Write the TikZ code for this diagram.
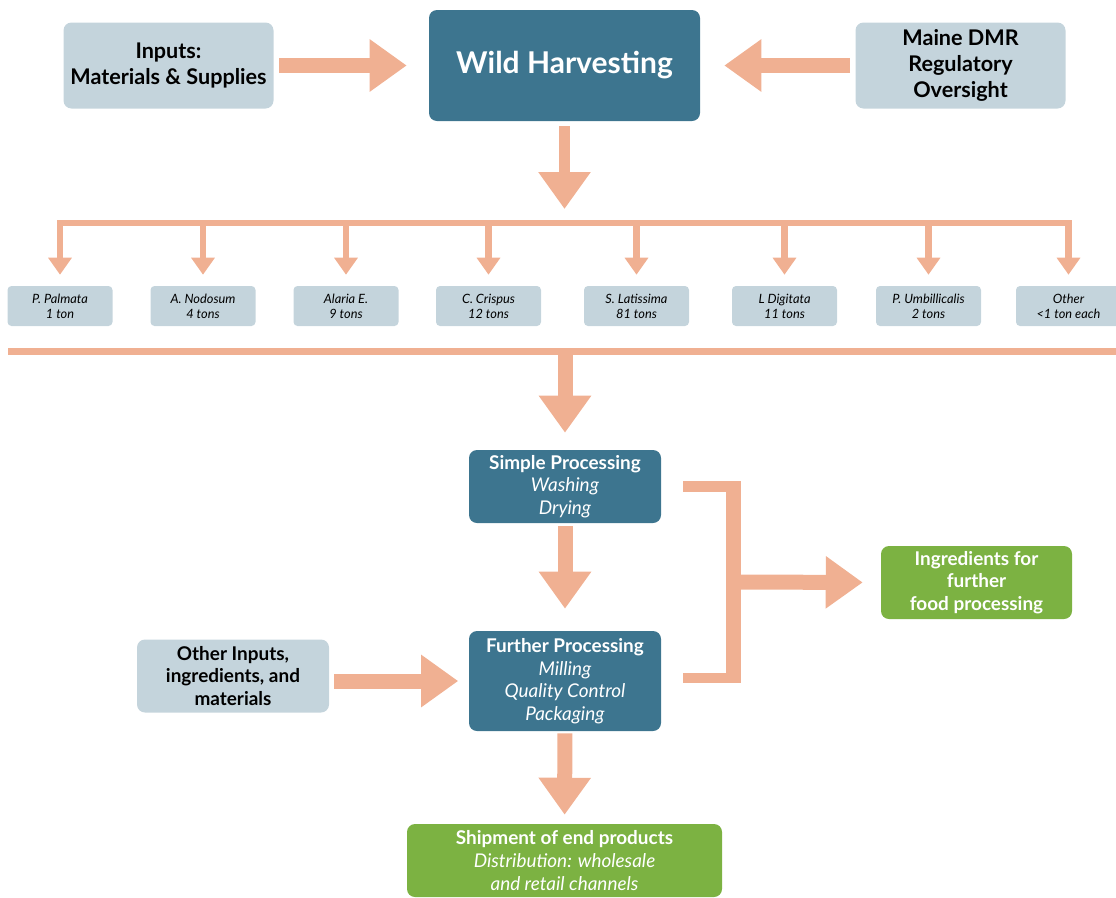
\documentclass[tikz,border=0pt]{standalone}
\usepackage{fontspec}
\setmainfont{Lato}
\usetikzlibrary{arrows.meta}

\definecolor{salmon}{RGB}{240,176,146}
\definecolor{harvestblue}{RGB}{61,117,143}
\definecolor{lightbox}{RGB}{196,212,220}
\definecolor{leafgreen}{RGB}{124,178,66}

\begin{document}
\begin{tikzpicture}
[x=0.75pt,y=-0.75pt,
every node/.style={rounded corners=6pt,inner sep=0pt,align=center},
greybox/.style={fill=lightbox,font=\fontsize{16.2}{19.8}\selectfont\bfseries,minimum width=157.5pt,minimum height=64.5pt},
smallgrey/.style={fill=lightbox,font=\fontsize{14.2}{16.9}\selectfont\bfseries,minimum width=144pt,minimum height=54.75pt},
bluebox/.style={fill=harvestblue,text=white,font=\fontsize{14.2}{16.9}\selectfont,minimum width=144pt},
greenbox/.style={fill=leafgreen,text=white,font=\fontsize{14.2}{16.9}\selectfont,minimum height=54.75pt},
species/.style={fill=lightbox,font=\fontsize{9.6}{11.4}\selectfont\itshape,rounded corners=3pt,minimum width=78.75pt,minimum height=30pt},
bigarrow/.style={draw=salmon,line width=11.25pt,-{Triangle[width=37.5pt,length=27.75pt]}},
smallarrow/.style={draw=salmon,line width=4.9pt,-{Triangle[width=17pt,length=12.75pt]},shorten >=8.25pt},
barline/.style={draw=salmon,line width=5pt},
armline/.style={draw=salmon,line width=7.9pt},
joinline/.style={draw=salmon,line width=11.25pt}]
\useasboundingbox (0,0) rectangle (1116,897);

% top row
\node[fill=harvestblue,text=white,font=\fontsize{22.5}{27}\selectfont\bfseries,minimum width=203.25pt,minimum height=83.25pt] (WildHarvesting) at (564.5,65.5) {Wild Harvesting};
\node[greybox] (Inputs) at (168.5,65.5) {Inputs:\\Materials \& Supplies};
\node[greybox] (MaineDMR) at (960.5,65.5) {Maine DMR\\Regulatory\\Oversight};

% harvested species
\node[species] (PPalmata) at (60,306) {P. Palmata\\1 ton};
\node[species] (ANodosum) at (203,306) {A. Nodosum\\4 tons};
\node[species] (AlariaE) at (346,306) {Alaria E.\\9 tons};
\node[species] (CCrispus) at (488.5,306) {C. Crispus\\12 tons};
\node[species] (SLatissima) at (636.5,306) {S. Latissima\\81 tons};
\node[species] (LDigitata) at (784.5,306) {L Digitata\\11 tons};
\node[species] (PUmbillicalis) at (928.5,306) {P. Umbillicalis\\2 tons};
\node[species] (OtherSpecies) at (1068.5,306) {Other\\<1 ton each};

% processing
\node[bluebox,minimum height=54.75pt] (SimpleProcessing) at (565,486.5) {\textbf{Simple Processing}\\\textit{Washing}\\\textit{Drying}};
\node[bluebox,minimum height=75pt] (FurtherProcessing) at (565,681) {\textbf{Further Processing}\\\textit{Milling}\\\textit{Quality Control}\\\textit{Packaging}};
\node[smallgrey] (OtherInputs) at (233,676) {Other Inputs,\\ingredients, and\\materials};
\node[greenbox,minimum width=143.25pt] (IngredientsFood) at (976.5,582.5) {\textbf{Ingredients for}\\\textbf{further}\\\textbf{food processing}};
\node[greenbox,minimum width=236.25pt] (Shipment) at (564.5,860.5) {\textbf{Shipment of end products}\\\textit{Distribution: wholesale}\\\textit{and retail channels}};

\coordinate (TopBar) at (0,223);
\coordinate (LowBarL) at (8,351.5);
\coordinate (LowBarR) at (1116,351.5);
\coordinate (Join) at (733.5,582);
\coordinate (JoinR) at (741,582);
\coordinate (JoinTop) at (733.5,482);
\coordinate (JoinBot) at (733.5,683);

\draw[bigarrow,shorten <=3.75pt,shorten >=16.5pt] (Inputs) -- (WildHarvesting);
\draw[bigarrow,shorten <=3.75pt,shorten >=18pt] (MaineDMR) -- (WildHarvesting);
\draw[bigarrow,line width=8.5pt,shorten <=3.75pt,shorten >=10.5pt] (WildHarvesting.south) -- (WildHarvesting.south |- TopBar);

\draw[barline,line cap=rect] (PPalmata.north |- TopBar) -- (OtherSpecies.north |- TopBar);
\draw[smallarrow] (PPalmata.north |- TopBar) -- (PPalmata.north);
\draw[smallarrow] (ANodosum.north |- TopBar) -- (ANodosum.north);
\draw[smallarrow] (AlariaE.north |- TopBar) -- (AlariaE.north);
\draw[smallarrow] (CCrispus.north |- TopBar) -- (CCrispus.north);
\draw[smallarrow] (SLatissima.north |- TopBar) -- (SLatissima.north);
\draw[smallarrow] (LDigitata.north |- TopBar) -- (LDigitata.north);
\draw[smallarrow] (PUmbillicalis.north |- TopBar) -- (PUmbillicalis.north);
\draw[smallarrow] (OtherSpecies.north |- TopBar) -- (OtherSpecies.north);

\draw[barline,line width=5.4pt] (LowBarL) -- (LowBarR);
\draw[bigarrow,shorten <=2.5pt,shorten >=12.75pt] (SimpleProcessing.north |- LowBarL) -- (SimpleProcessing.north);
\draw[bigarrow,shorten <=2.25pt,shorten >=16.5pt] (SimpleProcessing) -- (FurtherProcessing);
\draw[bigarrow,shorten <=3.75pt,shorten >=7.9pt] (OtherInputs.east |- FurtherProcessing) -- (FurtherProcessing.west);
\draw[bigarrow,shorten <=1.5pt,shorten >=6.75pt] (FurtherProcessing) -- (Shipment);

% bracket to the ingredients box
\draw[joinline] (JoinTop) -- (JoinBot);
\draw[armline] ([xshift=16.5pt]SimpleProcessing.east) -- (SimpleProcessing.east -| JoinR);
\draw[armline] ([xshift=16.5pt,yshift=2.25pt]FurtherProcessing.east) -- ([yshift=2.25pt]FurtherProcessing.east -| Join);
\draw[bigarrow,shorten >=13.5pt] (Join) -- (IngredientsFood.west);
\end{tikzpicture}
\end{document}
